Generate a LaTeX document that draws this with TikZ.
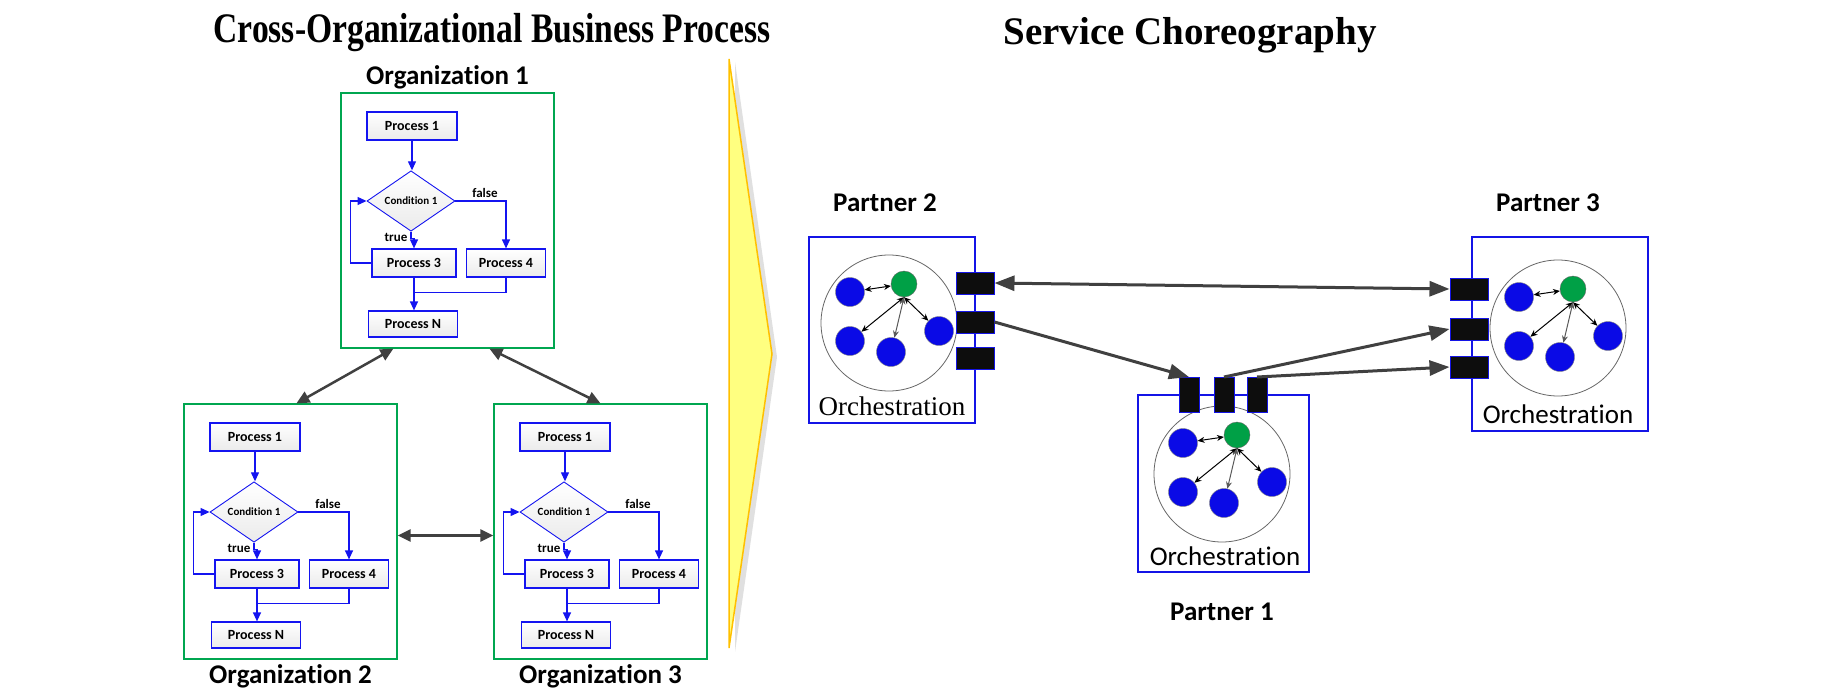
\documentclass[tikz,border=0pt]{standalone}
\usepackage{fontspec}
\setmainfont{Carlito}[Ligatures=NoCommon]
\newfontfamily\timesfont{Liberation Serif}
\usepackage{tikz}
\usetikzlibrary{arrows.meta}
\usetikzlibrary{calc}
\usetikzlibrary{positioning}
\usetikzlibrary{shapes.geometric}

\definecolor{flowblue}{RGB}{20,20,240}
\definecolor{orggreen}{RGB}{0,166,80}
\definecolor{portblue}{RGB}{20,20,230}
\definecolor{nodeblue}{RGB}{10,10,230}
\definecolor{nodegreen}{RGB}{0,160,70}
\definecolor{linkgray}{RGB}{64,64,64}
\definecolor{chevfill}{RGB}{255,255,128}
\definecolor{chevline}{RGB}{255,192,0}

\begin{document}
\begin{tikzpicture}[
  x=1pt, y=-1pt,
    title/.style = {font=\timesfont\bfseries\fontsize{42}{48}\selectfont},
   orgbox/.style = {draw=orggreen, line width=1.2pt, minimum width=213pt,
                    minimum height=255pt, inner sep=0pt},
 orglabel/.style = {font=\bfseries\fontsize{27}{30}\selectfont},
     proc/.style = {draw=flowblue, line width=1.2pt, top color=white,
                    bottom color=black!8, minimum height=28pt, inner sep=0pt,
                    font=\bfseries\fontsize{14}{16}\selectfont},
     cond/.style = {diamond, draw=flowblue, line width=0.9pt, top color=white,
                    bottom color=black!8, minimum width=88pt, minimum height=50pt,
                    inner sep=0pt, font=\bfseries\fontsize{11}{13}\selectfont},
      tag/.style = {font=\bfseries\fontsize{13}{15}\selectfont, inner sep=0pt},
     flow/.style = {draw=flowblue, line width=1.2pt, -{Triangle[length=9pt,width=8pt]}},
     link/.style = {draw=flowblue, line width=1.2pt},
  orglink/.style = {draw=linkgray, line width=2.5pt,
                    {Triangle[length=13pt,width=12pt]}-{Triangle[length=13pt,width=12pt]}},
     pbox/.style = {draw=portblue, line width=1.3pt, inner sep=0pt},
   plabel/.style = {font=\bfseries\fontsize{27}{30}\selectfont},
     orch/.style = {font=\fontsize{27}{30}\selectfont, inner sep=0pt},
    hport/.style = {fill=black!95, draw=portblue, line width=1pt, minimum width=38pt,
                    minimum height=22pt, inner sep=0pt},
    vport/.style = {fill=black!95, draw=portblue, line width=1pt, minimum width=20pt,
                    minimum height=35pt, inner sep=0pt},
    plink/.style = {draw=linkgray, line width=3pt, -{Triangle[length=20pt,width=15pt]}},
     ring/.style = {circle, draw=black!60, line width=0.8pt, minimum size=136pt},
    gnode/.style = {circle, fill=nodegreen, draw=black!60, minimum size=26pt, inner sep=0pt},
    bnode/.style = {circle, fill=nodeblue, draw=black!50, minimum size=29pt, inner sep=0pt},
     mini/.style = {line width=1pt,
                    {Stealth[length=7pt,width=6pt]}-{Stealth[length=7pt,width=6pt]}}
                   ]
\useasboundingbox (0,0) rectangle (1831,696);

% titles
\node[title] (tleft) at (492,33) {\scalebox{0.8}[1]{Cross-Organizational Business Process}};
\node[title, font=\timesfont\bfseries\fontsize{39}{44}\selectfont] (tright) at (1190,35) {Service Choreography};

% the three organizations
\foreach \o/\x/\y/\ly in {1/341/93/-16, 2/184/404/272, 3/494/404/272}{
  \begin{scope}[shift={(\x,\y)}]
    \node[orgbox] (o\o) at (106.5,127.5) {};
    \node[orglabel] (ol\o) at (106.5,\ly) {Organization \o};
    \node[proc, minimum width=90pt] (pa\o) at (71,33) {Process 1};
    \node[cond] (c\o) at (70,108) {Condition 1};
    \node[proc, minimum width=84pt] (pc\o) at (73,170) {Process 3};
    \node[proc, minimum width=79pt] (pd\o) at (165,170) {Process 4};
    \node[proc, minimum width=89pt, minimum height=26pt] (pn\o) at (72,231) {Process N};
    \node[tag] (tt\o) at (55,144) {true};
    \node[tag] (tf\o) at (144,100) {false};
    \draw[flow] (pa\o.south) -- (pa\o.south |- c\o.north);
    \draw[flow] (c\o.south) -- ++(0,7) -| (pc\o.north);
    \draw[flow] (c\o.east) -| (pd\o.north);
    \draw[flow] (pc\o.west) -- ++(-21,0) |- (c\o.west);
    \draw[link] (pd\o.south) -- ++(0,15) -| (pc\o.south);
    \draw[flow] (pc\o.south) -- (pc\o.south |- pn\o.north);
  \end{scope}
}
\draw[orglink] ([xshift=53pt]o1.south west) -- ([xshift=113pt]o2.north west);
\draw[orglink] ([xshift=149pt]o1.south west) -- (o3.north);
\draw[orglink] ([yshift=-4pt]o2.east) -- ([yshift=-4pt]o3.west);

% chevron
\fill[black!12] (735,62) -- (777,357) -- (735,652) -- cycle;
\filldraw[fill=chevfill, draw=chevline, line width=1.5pt] (729,59) -- (772,354) -- (729,648) -- cycle;

% partners
\node[pbox, minimum width=166pt, minimum height=186pt] (box2) at (892,330) {};
\node[pbox, minimum width=171pt, minimum height=177pt] (box1) at (1223.5,483.5) {};
\node[pbox, minimum width=176pt, minimum height=194pt] (box3) at (1560,334) {};
\node[plabel] (pl2) at (885,203) {Partner 2};
\node[plabel] (pl1) at (1222,612) {Partner 1};
\node[plabel] (pl3) at (1548,203) {Partner 3};
\node[orch] (or2) at (892,406) {\timesfont Orchestration};
\node[orch] (or1) at (1225,556) {Orchestration};
\node[orch] (or3) at (1558,414) {Orchestration};

\foreach \n/\cx/\cy in {2/889/323, 1/1222/474, 3/1558/328}{
  \begin{scope}[shift={(\cx,\cy)}]
    \node[ring] (r\n) at (0,0) {};
    \node[gnode] (g\n) at (15,-39) {};
    \node[bnode] (ba\n) at (-39,-31) {};
    \node[bnode] (bb\n) at (-39,18) {};
    \node[bnode] (bc\n) at (2,29) {};
    \node[bnode] (bd\n) at (50,8) {};
    \draw[mini] (g\n) -- (ba\n);
    \draw[mini] (g\n.south) -- (bb\n);
    \draw[mini, black!65] (g\n.south) -- (bc\n);
    \draw[mini] (g\n.south) -- (bd\n);
  \end{scope}
}

% ports
\foreach \k/\yy in {a/283, b/322, c/358}
  \node[hport] (w2\k) at (975,\yy) {};
\foreach \k/\xx in {a/1189, b/1224, c/1257}
  \node[vport] (w1\k) at (\xx,395) {};
\foreach \k/\yy in {a/289, b/329, c/367}
  \node[hport] (w3\k) at (1469,\yy) {};

\draw[plink, {Triangle[length=20pt,width=15pt]}-{Triangle[length=20pt,width=15pt]}] (w2a.east) -- (w3a.west);
\draw[plink] (w2b.east) -- (w1a.north);
\draw[plink] (w1b.north) -- (w3b.west);
\draw[plink] (w1c.north) -- (w3c.west);
\end{tikzpicture}
\end{document}
